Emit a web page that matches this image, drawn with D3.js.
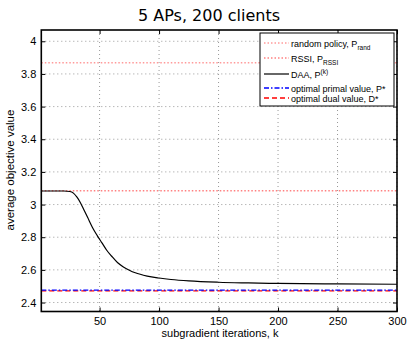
<!DOCTYPE html>
<html><head><meta charset="utf-8">
<script src="https://cdn.jsdelivr.net/npm/d3@7"></script>
<style>body{margin:0;background:#fff;} svg{display:block;font-family:"Liberation Sans",Arial,sans-serif;}</style>
</head><body><svg id="c" width="407" height="340"></svg>
<script>
const daaK = [1,20,25,28,31,34,37,40,44,48,52,56,60,65,70,75,80,90,100,110,125,150,175,200,250,300];
const daaV = [3.083,3.083,3.080,3.070,3.045,3.010,2.965,2.920,2.860,2.810,2.765,2.720,2.685,2.645,2.618,2.598,2.582,2.562,2.550,2.541,2.532,2.524,2.520,2.517,2.514,2.512];
const pRand = 3.869;
const pRSSI = 3.085;
const pStar = 2.476;
const dStar = 2.471;
const xTicks = [50,100,150,200,250,300];
const yTicks = [2.4,2.6,2.8,3.0,3.2,3.4,3.6,3.8,4.0];
const legendLabels = ["random policy, P","RSSI, P","DAA, P","optimal primal value, P*","optimal dual value, D*"];

const svg = d3.select("#c");
const L=41.3, R=397, T=30, B=311.5;
const x = d3.scaleLinear().domain([1,300]).range([L,R]);
const y = d3.scaleLinear().domain([2.345,4.069]).range([B,T]);

// grid
const g = svg.append("g");
g.selectAll(".gx").data(xTicks).join("line").attr("x1",d=>x(d)).attr("x2",d=>x(d)).attr("y1",T).attr("y2",B)
 .attr("stroke","#999").attr("stroke-width",1).attr("stroke-dasharray","1,3");
g.selectAll(".gy").data(yTicks).join("line").attr("x1",L).attr("x2",R).attr("y1",d=>y(d)).attr("y2",d=>y(d))
 .attr("stroke","#999").attr("stroke-width",1).attr("stroke-dasharray","1,3");

// horizontal reference lines
function hline(v,color,dash,w){svg.append("line").attr("x1",L).attr("x2",R).attr("y1",y(v)).attr("y2",y(v))
 .attr("stroke",color).attr("stroke-width",w).attr("stroke-dasharray",dash);}
hline(pRand,"#ff9a9a","1.5,2",1.5);
hline(pRSSI,"#ff8080","1.5,2",1.5);
hline(dStar,"#ff0000","5,3",1.3);
hline(pStar,"#0000ff","5,2,1.5,2",1.3);

// DAA curve
const pts = daaK.map((k,i)=>[k,daaV[i]]);
svg.append("path").datum(pts).attr("fill","none").attr("stroke","#000").attr("stroke-width",1.2)
 .attr("d",d3.line().x(d=>x(d[0])).y(d=>y(d[1])).curve(d3.curveMonotoneX));

// axes
const fs="11px";
const xa = svg.append("g").attr("transform",`translate(0,${B})`).call(d3.axisBottom(x).tickValues(xTicks).tickSize(-4).tickPadding(6));
const xt = svg.append("g").attr("transform",`translate(0,${T})`).call(d3.axisTop(x).tickValues(xTicks).tickSize(-4).tickFormat(""));
const ya = svg.append("g").attr("transform",`translate(${L},0)`).call(d3.axisLeft(y).tickValues(yTicks).tickSize(-4).tickPadding(5).tickFormat(d=>d3.format("")(d)));
const yr = svg.append("g").attr("transform",`translate(${R},0)`).call(d3.axisRight(y).tickValues(yTicks).tickSize(-4).tickFormat(""));
[xa,xt,ya,yr].forEach(a=>{a.select(".domain").remove();a.selectAll("line").attr("stroke","#000");a.selectAll("text").attr("font-size",fs).attr("fill","#000").attr("font-family","Liberation Sans, Arial, sans-serif");});
svg.append("rect").attr("x",L).attr("y",T).attr("width",R-L).attr("height",B-T).attr("fill","none").attr("stroke","#000").attr("stroke-width",1.6);

// labels
svg.append("text").attr("x",209).attr("y",21).attr("text-anchor","middle").attr("font-size","16px").attr("font-family","DejaVu Sans, sans-serif").text("5 APs, 200 clients");
svg.append("text").attr("x",220).attr("y",336.5).attr("text-anchor","middle").attr("font-size","11px").text("subgradient iterations, k");
svg.append("text").attr("transform","translate(14,170) rotate(-90)").attr("text-anchor","middle").attr("font-size","11.5px").text("average objective value");

// legend
const lg = svg.append("g");
lg.append("rect").attr("x",260).attr("y",33).attr("width",134).attr("height",73).attr("fill","#fff").attr("stroke","#000").attr("stroke-width",1);
const rowsY=[43,58,74,88,98];
const styles=[["#ff9a9a","1.5,2",1.5],["#ff8080","1.5,2",1.5],["#000","",1.2],["#0000ff","5,2,1.5,2",1.3],["#ff0000","5,3",1.3]];
const subs=["rand","RSSI","(k)","",""];
legendLabels.forEach((lab,i)=>{
  lg.append("line").attr("x1",264).attr("x2",289).attr("y1",rowsY[i]).attr("y2",rowsY[i]).attr("stroke",styles[i][0]).attr("stroke-dasharray",styles[i][1]).attr("stroke-width",styles[i][2]);
  const t=lg.append("text").attr("x",291).attr("y",rowsY[i]+3.5).attr("font-size","9px").text(lab);
  if(subs[i]){
    const sup = i===2;
    t.append("tspan").attr("font-size","6.5px").attr("dy",sup?-4:3).text(subs[i]);
  }
});
</script></body></html>
